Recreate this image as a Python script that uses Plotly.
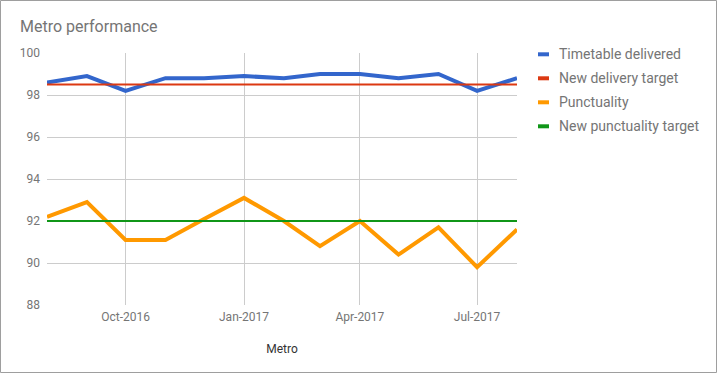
import plotly.graph_objects as go

months = ["2016-08-01", "2016-09-01", "2016-10-01", "2016-11-01", "2016-12-01",
          "2017-01-01", "2017-02-01", "2017-03-01", "2017-04-01", "2017-05-01",
          "2017-06-01", "2017-07-01", "2017-08-01"]
timetable = [98.6, 98.9, 98.2, 98.8, 98.8, 98.9, 98.8, 99.0, 99.0, 98.8, 99.0, 98.2, 98.8]
delivery_target = [98.5] * 13
punctuality = [92.2, 92.9, 91.1, 91.1, 92.1, 93.1, 92.0, 90.8, 92.0, 90.4, 91.7, 89.8, 91.6]
punct_target = [92.0] * 13

series_names = ["Timetable delivered", "New delivery target", "Punctuality", "New punctuality target"]
series_colors = ["#3366CC", "#DC3912", "#FF9900", "#109618"]
series_widths = [4, 2, 4, 2]
series_values = [timetable, delivery_target, punctuality, punct_target]

x_tickvals = ["2016-10-01", "2017-01-01", "2017-04-01", "2017-07-01"]
x_ticktext = ["Oct-2016", "Jan-2017", "Apr-2017", "Jul-2017"]
y_tickvals = [88, 90, 92, 94, 96, 98, 100]

W, H = 717, 373
L, R, T, B = 47, 200, 53, 68
pw, ph = W - L - R, H - T - B


def px_x(px):
    return (px - L) / pw


def px_y(py):
    return 1 - (py - T) / ph


fig = go.Figure()
for name, vals, col, wd in zip(series_names, series_values, series_colors, series_widths):
    fig.add_trace(go.Scatter(x=months, y=vals, name=name, mode="lines",
                             line=dict(color=col, width=wd), showlegend=False))

# custom legend (short line swatch + label)
for i, (name, col) in enumerate(zip(series_names, series_colors)):
    yc = 54.3 + 24 * i
    fig.add_shape(type="line", xref="paper", yref="paper",
                  x0=px_x(538), x1=px_x(549), y0=px_y(yc), y1=px_y(yc),
                  line=dict(color=col, width=4))
    fig.add_annotation(text=name, xref="paper", yref="paper", x=px_x(557), y=px_y(yc),
                       xanchor="left", yanchor="middle", showarrow=False,
                       font=dict(size=14, color="#757575"))

fig.update_layout(
    width=W, height=H,
    margin=dict(l=L, r=R, t=T, b=B),
    paper_bgcolor="white", plot_bgcolor="white",
    font=dict(family="Roboto", size=12, color="#757575"),
    title=dict(text="Metro performance", x=20 / W, xref="container", xanchor="left",
               y=1 - 26 / H, yref="container", yanchor="middle",
               font=dict(size=16, color="#757575")),
    showlegend=False,
    xaxis=dict(range=[months[0], months[-1]], tickvals=x_tickvals, ticktext=x_ticktext,
               showgrid=True, gridcolor="#cccccc", gridwidth=1, zeroline=False,
               showline=False, ticks="", ticklabelstandoff=3,
               tickfont=dict(size=12, color="#757575"),
               title=dict(text="Metro", font=dict(size=12, color="#333333"), standoff=21)),
    yaxis=dict(range=[88, 100], tickvals=y_tickvals, showgrid=True, gridcolor="#cccccc",
               gridwidth=1, zeroline=False, showline=False, ticks="", ticklabelstandoff=6,
               tickfont=dict(size=12, color="#757575")),
)

fig.add_shape(type="rect", xref="paper", yref="paper",
              x0=(-L + 0.5) / pw, x1=1 + (R - 0.5) / pw,
              y0=(-B + 0.5) / ph, y1=1 + (T - 0.5) / ph,
              line=dict(color="#9e9e9e", width=1), fillcolor="rgba(0,0,0,0)", layer="below")

fig.write_html("out.html", config={"displayModeBar": False},
               post_script="document.body.style.margin='0';")
